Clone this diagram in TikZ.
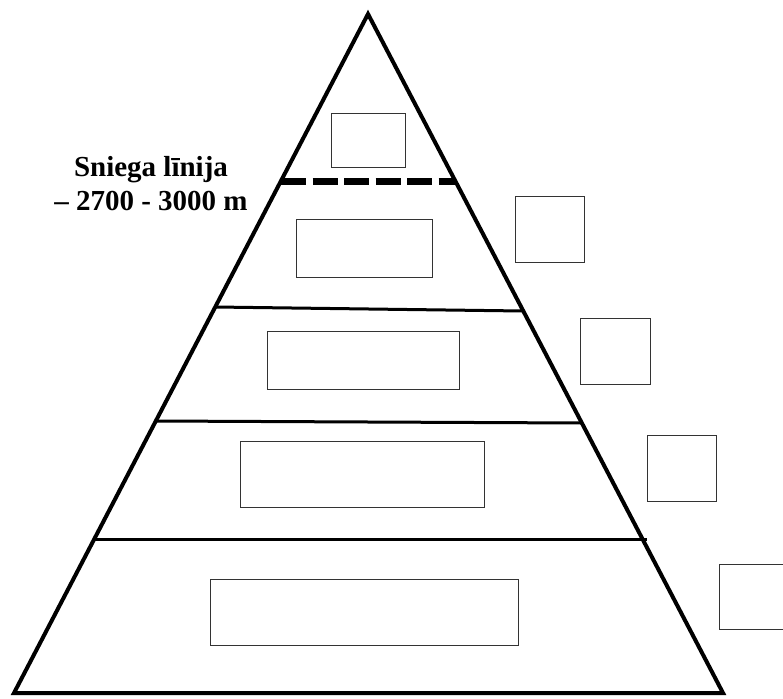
\documentclass[tikz,border=0pt]{standalone}
\usepackage{fontspec}
\setmainfont{Liberation Serif}
\tikzstyle{slot}=[rectangle,draw=black!80,line width=1pt,inner sep=0mm,outer sep=0mm]
\tikzstyle{tier}=[line width=3pt]
\tikzstyle{snowline}=[line width=7pt,dash pattern=on 25pt off 6.5pt]
\tikzstyle{snowtxt}=[font=\bfseries\fontsize{29}{34}\selectfont,align=center,inner sep=0mm]
\tikzset{every picture/.style={
    x=1pt,y=-1pt
  }
}

\begin{document}
\begin{tikzpicture}
        \useasboundingbox (0,0) rectangle (783,698);
        % mountain outline
        \coordinate (top) at (368,14);
        \coordinate (bl) at (14,693);
        \coordinate (br) at (723,693);
        \draw[line width=4pt,line join=miter] (top) -- (bl) -- (br) -- cycle;
        % belts
        \coordinate (s1) at (281,181);
        \coordinate (e1) at (456,181);
        \coordinate (s2) at (215,307);
        \coordinate (e2) at (523,311);
        \coordinate (s3) at (156,421);
        \coordinate (e3) at (582,423);
        \coordinate (s4) at (94,539);
        \coordinate (e4) at (647,539);
        \draw[snowline] (s1) -- (e1);
        \draw[tier] (s2) -- (e2);
        \draw[tier] (s3) -- (e3);
        \draw[tier] (s4) -- (e4);
        % empty boxes inside
        \node[slot,minimum width=74pt,minimum height=54pt] at (368,140) (in1) {};
        \node[slot,minimum width=136pt,minimum height=58pt] at (364,248) (in2) {};
        \node[slot,minimum width=192pt,minimum height=58pt] at (363,360) (in3) {};
        \node[slot,minimum width=244pt,minimum height=66pt] at (362,474) (in4) {};
        \node[slot,minimum width=308pt,minimum height=66pt] at (364,612) (in5) {};
        % empty boxes outside
        \node[slot,minimum width=69pt,minimum height=66pt] at (549.5,229) (out1) {};
        \node[slot,minimum width=70pt,minimum height=66pt] at (615,351) (out2) {};
        \node[slot,minimum width=69pt,minimum height=66pt] at (681.5,468) (out3) {};
        \node[slot,minimum width=72pt,minimum height=65pt] at (755,596.5) (out4) {};
        \node[snowtxt,anchor=south] at (151,211) (snow) {Sniega līnija\\– 2700 - 3000 m};
      \end{tikzpicture}
\end{document}
